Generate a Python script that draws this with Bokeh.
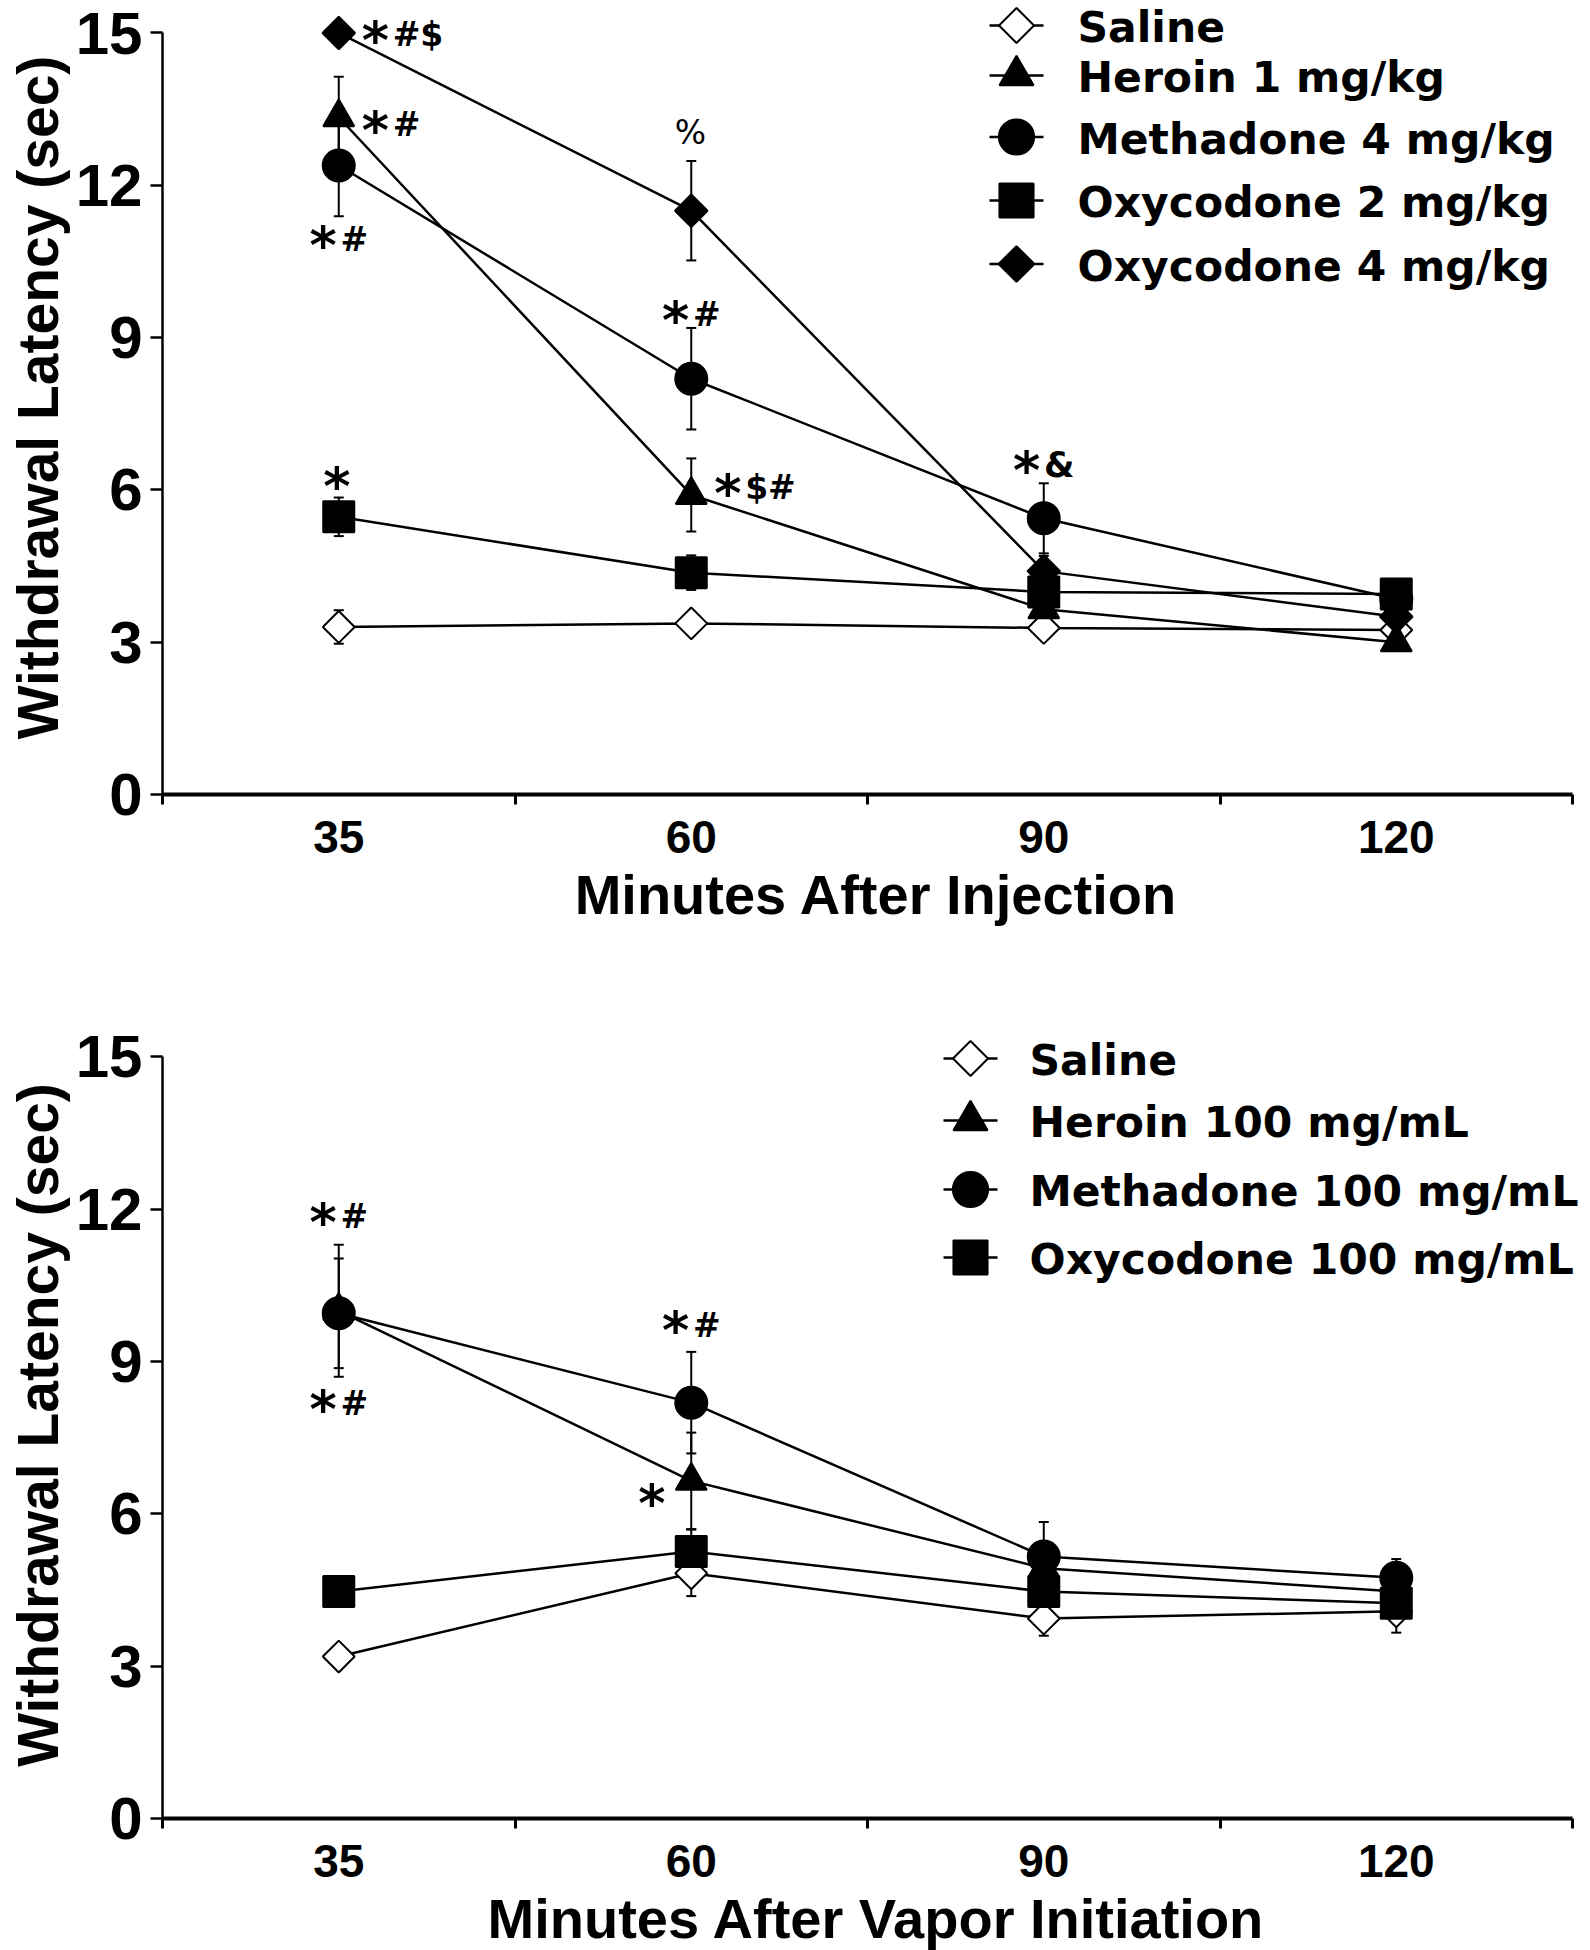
import math
from bokeh.plotting import figure
from bokeh.models import (Range1d, FixedTicker, ColumnDataSource, Whisker, TeeHead, LinearAxis)
from bokeh.layouts import column
from bokeh.embed import file_html
from bokeh.resources import INLINE
from bokeh.core.properties import value

# ---------------- data ----------------
TIME_LABELS = ["35", "60", "90", "120"]

# Panel A: after injection
inj_names = ["Saline", "Heroin 1 mg/kg", "Methadone 4 mg/kg", "Oxycodone 2 mg/kg", "Oxycodone 4 mg/kg"]
inj_saline = [3.30, 3.37, 3.28, 3.24]
inj_saline_sem = [0.33, 0.12, 0.12, 0.15]
inj_heroin = [13.34, 5.90, 3.65, 3.00]
inj_heroin_sem = [0.80, 0.72, 0.15, 0.10]
inj_methadone = [12.39, 8.19, 5.44, 3.85]
inj_methadone_sem = [1.00, 1.00, 0.69, 0.20]
inj_oxy2 = [5.47, 4.37, 3.99, 3.95]
inj_oxy2_sem = [0.38, 0.34, 0.20, 0.27]
inj_oxy4 = [15.00, 11.50, 4.40, 3.50]
inj_oxy4_sem = [0.00, 0.98, 0.30, 0.20]

inj_ann_time = ["35", "35", "35", "60", "60", "60", "35", "90"]
inj_ann_value = [15.05, 13.28, 11.02, 13.06, 9.54, 6.13, 6.27, 6.58]
inj_ann_text = ["*#$", "*#", "*#", "%", "*#", "*$#", "*", "*&"]
inj_ann_side = ["right", "right", "center", "center", "center", "right", "center", "center"]

# Panel B: after vapor initiation
vap_names = ["Saline", "Heroin 100 mg/mL", "Methadone 100 mg/mL", "Oxycodone 100 mg/mL"]
vap_saline = [3.19, 4.83, 3.94, 4.08]
vap_saline_sem = [0.10, 0.45, 0.34, 0.42]
vap_heroin = [10.00, 6.65, 4.93, 4.47]
vap_heroin_sem = [1.30, 0.95, 0.30, 0.25]
vap_methadone = [9.95, 8.19, 5.16, 4.74]
vap_methadone_sem = [1.08, 1.00, 0.68, 0.37]
vap_oxy = [4.47, 5.26, 4.47, 4.24]
vap_oxy_sem = [0.30, 0.43, 0.30, 0.20]

vap_ann_time = ["35", "35", "60", "60"]
vap_ann_value = [11.94, 8.26, 9.80, 6.40]
vap_ann_text = ["*#", "*#", "*#", "*"]
vap_ann_side = ["center", "center", "center", "left"]

# ---------------- styles ----------------
TIME_POS = [i + 0.5 for i in range(len(TIME_LABELS))]
STYLE = {
    "saline": dict(marker="square", angle=math.pi / 4, size=22.5, fill="white"),
    "heroin": dict(marker="triangle", angle=0.0, size=31, fill="black"),
    "methadone": dict(marker="circle", angle=0.0, size=32, fill="black"),
    "oxy_sq": dict(marker="square", angle=0.0, size=31, fill="black"),
    "oxy_dia": dict(marker="square", angle=math.pi / 4, size=23, fill="black"),
}
FONT = "Liberation Sans"
LFONT = "DejaVu Sans"
FRAME_W = 1428
X_END = 4.051
PX_PER_UNIT = 50.77

AST_FS = 52
AST_ADV = 0.575 * AST_FS
AST_GAP = 1.0
AST_YOFF = 9.5
ADV = {"#": 0.838, "$": 0.696, "&": 0.872, "%": 1.002}


def add_annotations(p, times, values, texts, sides):
    a = dict(x=[], y=[], t=[], xo=[], yo=[])
    r = dict(x=[], y=[], t=[], xo=[], yo=[], fs=[], st=[])
    for t, v, s, side in zip(times, values, texts, sides):
        xc = TIME_POS[TIME_LABELS.index(t)]
        has_ast = s.startswith("*")
        rest = s[1:] if has_ast else s
        if rest == "%":
            fs, style, yo = 33, "normal", 1.5
        elif "&" in rest:
            fs, style, yo = 35, "bold", 4.7
        else:
            fs, style, yo = 33, "bold", 4.4
        w_ast = AST_ADV + AST_GAP if has_ast else 0.0
        w_rest = sum(ADV.get(c, 0.7) for c in rest) * fs
        total = w_ast + w_rest
        if side == "right":
            x0 = 23.0
        elif side == "left":
            x0 = -22.0 - total
        else:
            x0 = -total / 2.0
        if has_ast:
            a["x"].append(xc); a["y"].append(v); a["t"].append("*")
            a["xo"].append(x0); a["yo"].append(AST_YOFF)
        if rest:
            r["x"].append(xc); r["y"].append(v); r["t"].append(rest)
            r["xo"].append(x0 + w_ast); r["yo"].append(yo)
            r["fs"].append("%dpx" % fs); r["st"].append(style)
    p.text(x="x", y="y", text="t", x_offset="xo", y_offset="yo",
           source=ColumnDataSource(a), text_font=value(LFONT), text_font_style="bold",
           text_font_size="%dpx" % AST_FS, text_align="left", text_baseline="alphabetic",
           text_color="black")
    p.text(x="x", y="y", text="t", x_offset="xo", y_offset="yo",
           source=ColumnDataSource(r), text_font=value(LFONT), text_font_style="st",
           text_font_size="fs", text_align="left", text_baseline="alphabetic",
           text_color="black")


def make_panel(series, names, ann, xlabel, y_end, border_top, border_bottom,
               leg_rows, leg_mx, leg_tx, leg_fs):
    frame_h = int(round(y_end * PX_PER_UNIT))
    p = figure(frame_width=FRAME_W, frame_height=frame_h,
               x_range=Range1d(0, X_END), y_range=Range1d(0, y_end),
               x_axis_type=None, y_axis_type=None,
               output_backend="svg", toolbar_location=None,
               min_border_left=162, min_border_right=0,
               min_border_top=border_top, min_border_bottom=border_bottom)
    p.outline_line_color = None
    p.background_fill_color = "white"
    p.border_fill_color = "white"

    xaxis = LinearAxis(
        ticker=FixedTicker(ticks=TIME_POS, minor_ticks=[0, 1, 2, 3, 4]),
        bounds=(0, 4),
        major_label_overrides={pos: lab for pos, lab in zip(TIME_POS, TIME_LABELS)},
        axis_label=xlabel,
        axis_line_width=4, axis_line_color="black",
        major_tick_line_color=None, major_tick_out=0, major_tick_in=0,
        minor_tick_line_color="black", minor_tick_line_width=3,
        minor_tick_out=10, minor_tick_in=0,
        major_label_standoff=16,
        major_label_text_font=FONT, major_label_text_font_style="bold",
        major_label_text_font_size="46px", major_label_text_color="black",
        axis_label_standoff=7,
        axis_label_text_font=FONT, axis_label_text_font_style="bold",
        axis_label_text_font_size="56px", axis_label_text_color="black",
    )
    p.add_layout(xaxis, "below")

    yaxis = LinearAxis(
        ticker=FixedTicker(ticks=[0, 3, 6, 9, 12, 15]),
        bounds=(0, 15),
        axis_label="Withdrawal Latency (sec)",
        axis_line_width=2.5, axis_line_color="black",
        major_tick_line_color="black", major_tick_line_width=2.5,
        major_tick_out=12, major_tick_in=0,
        minor_tick_line_color=None,
        major_label_standoff=8,
        major_label_text_font=FONT, major_label_text_font_style="bold",
        major_label_text_font_size="60px", major_label_text_color="black",
        axis_label_standoff=3,
        axis_label_text_font=FONT, axis_label_text_font_style="bold",
        axis_label_text_font_size="57px", axis_label_text_color="black",
    )
    p.add_layout(yaxis, "left")

    # series: error bars + line + markers
    for (key, ys, sem) in series:
        st = STYLE[key]
        src = ColumnDataSource(dict(
            x=TIME_POS, y=ys,
            upper=[v + e for v, e in zip(ys, sem)],
            lower=[v - e for v, e in zip(ys, sem)]))
        p.add_layout(Whisker(source=src, base="x", upper="upper", lower="lower",
                             line_color="black", line_width=2, level="underlay",
                             upper_head=TeeHead(size=10, line_width=2, line_color="black"),
                             lower_head=TeeHead(size=10, line_width=2, line_color="black")))
        p.line("x", "y", source=src, line_color="black", line_width=2.5)
        p.scatter("x", "y", source=src, marker=st["marker"], angle=st["angle"],
                  size=st["size"], fill_color=st["fill"], line_color="black", line_width=2)

    add_annotations(p, *ann)

    # legend drawn in frame pixel space
    p.extra_x_ranges = {"lx": Range1d(0, FRAME_W)}
    p.extra_y_ranges = {"ly": Range1d(frame_h, 0)}
    half = 27
    n = len(series)
    lsrc = ColumnDataSource(dict(
        y=leg_rows[:n],
        x0=[leg_mx - half] * n, x1=[leg_mx + half] * n,
        mx=[leg_mx] * n, tx=[leg_tx] * n,
        label=names,
        marker=[STYLE[s[0]]["marker"] for s in series],
        angle=[STYLE[s[0]]["angle"] for s in series],
        size=[STYLE[s[0]]["size"] * 1.1 for s in series],
        fill=[STYLE[s[0]]["fill"] for s in series]))
    p.segment(x0="x0", x1="x1", y0="y", y1="y", source=lsrc, line_color="black",
              line_width=2.5, x_range_name="lx", y_range_name="ly")
    p.scatter(x="mx", y="y", source=lsrc, marker="marker", angle="angle", size="size",
              fill_color="fill", line_color="black", line_width=2,
              x_range_name="lx", y_range_name="ly")
    p.text(x="tx", y="y", text="label", source=lsrc, text_font=value(LFONT),
           text_font_style="bold", text_font_size="%.1fpx" % leg_fs, text_color="black",
           text_align="left", text_baseline="alphabetic", y_offset=2.0,
           x_range_name="lx", y_range_name="ly")
    return p


inj_series = [("saline", inj_saline, inj_saline_sem),
              ("heroin", inj_heroin, inj_heroin_sem),
              ("methadone", inj_methadone, inj_methadone_sem),
              ("oxy_sq", inj_oxy2, inj_oxy2_sem),
              ("oxy_dia", inj_oxy4, inj_oxy4_sem)]
vap_series = [("saline", vap_saline, vap_saline_sem),
              ("heroin", vap_heroin, vap_heroin_sem),
              ("methadone", vap_methadone, vap_methadone_sem),
              ("oxy_sq", vap_oxy, vap_oxy_sem)]

p1 = make_panel(inj_series, inj_names,
                (inj_ann_time, inj_ann_value, inj_ann_text, inj_ann_side),
                "Minutes After Injection", 15.64, 0, 135,
                [25, 75, 136.5, 200, 263.5], 854, 915, 42.5)
p2 = make_panel(vap_series, vap_names,
                (vap_ann_time, vap_ann_value, vap_ann_text, vap_ann_side),
                "Minutes After Vapor Initiation", 15.5, 102, 134,
                [27, 89, 158, 226], 808, 867, 42.5)

layout = column(p1, p2, spacing=0)
open("out.html", "w").write(file_html(layout, INLINE))
